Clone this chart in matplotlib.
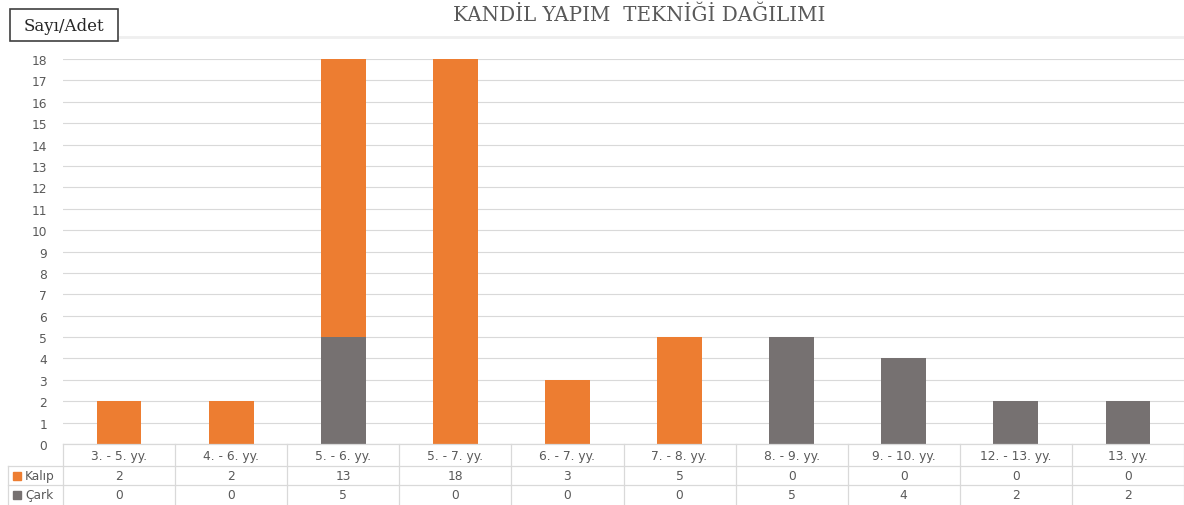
"""Kandil yapim teknigi dagilimi - stacked bar chart with Excel-style data table."""

import matplotlib

matplotlib.use("Agg")

import matplotlib.pyplot as plt
import numpy as np

W, H = 1184, 506

CATEGORIES = ["3. - 5. yy.", "4. - 6. yy.", "5. - 6. yy.", "5. - 7. yy.", "6. - 7. yy.",
              "7. - 8. yy.", "8. - 9. yy.", "9. - 10. yy.", "12. - 13. yy.", "13. yy."]
KALIP = [2, 2, 13, 18, 3, 5, 0, 0, 0, 0]
CARK = [0, 0, 5, 0, 0, 0, 5, 4, 2, 2]
SERIES = [("Kalıp", KALIP), ("Çark", CARK)]
Y_TICKS = list(range(0, 19))

ORANGE = "#ED7D31"
GRAY = "#767171"
GRID = "#D9D9D9"
TEXT = "#595959"
COLORS = {"Kalıp": ORANGE, "Çark": GRAY}

SANS = ["DejaVu Sans"]
SERIF = ["DejaVu Serif"]
FS = 8.8


def fx(px):
    return px / W


def fy(py):
    return 1 - py / H


fig = plt.figure(figsize=(W / 100, H / 100), dpi=100, facecolor="white")

# plot area
x0, x1 = 63, 1184
y_top, y_zero = 60, 445
ax = fig.add_axes([fx(x0), fy(y_zero), fx(x1 - x0), (y_zero - y_top) / H])
n = len(CATEGORIES)
x = np.arange(n)
bw = 0.4
ax.bar(x, CARK, bw, color=GRAY, zorder=3)
ax.bar(x, KALIP, bw, bottom=CARK, color=ORANGE, zorder=3)
ax.set_xlim(-0.5, n - 0.5)
ax.set_ylim(0, 18)
ax.set_yticks(Y_TICKS)
ax.set_yticklabels([str(t) for t in Y_TICKS], fontsize=FS, color=TEXT, family=SANS)
ax.tick_params(axis="y", length=0, pad=11.5)
ax.set_xticks([])
ax.grid(axis="y", color=GRID, linewidth=0.8, zorder=0)
for s in ax.spines.values():
    s.set_visible(False)

# data table below plot area
row_h = [22, 19, 20]
edges = [y_zero]
for h in row_h:
    edges.append(edges[-1] + h)
tab = fig.add_axes([0, 0, 1, 1], facecolor="none")
tab.set_xlim(0, W)
tab.set_ylim(H, 0)
tab.axis("off")

cw = (x1 - x0) / n
lc = GRID
lw = 0.9
tab.plot([x0, x1], [edges[0], edges[0]], color=lc, lw=lw)
for e in edges[1:3]:
    tab.plot([8, x1], [e, e], color=lc, lw=lw)
tab.plot([8, 8], [edges[1], H], color=lc, lw=lw)
for i in range(n + 1):
    xv = x0 + i * cw
    tab.plot([xv, xv], [edges[0], H], color=lc, lw=lw)

for i, cat in enumerate(CATEGORIES):
    cx = x0 + (i + 0.5) * cw
    tab.text(cx, (edges[0] + edges[1]) / 2 + 1, cat, ha="center", va="center",
             fontsize=FS, color=TEXT, family=SANS)
    for r, (name, vals) in enumerate(SERIES):
        tab.text(cx, (edges[r + 1] + edges[r + 2]) / 2, str(vals[i]), ha="center",
                 va="center", fontsize=FS, color=TEXT, family=SANS)

for r, (name, vals) in enumerate(SERIES):
    cy = (edges[r + 1] + edges[r + 2]) / 2
    tab.add_patch(plt.Rectangle((13, cy - 4), 8, 8, color=COLORS[name]))
    tab.text(25, cy, name, ha="left", va="center", fontsize=FS, color=TEXT,
             family=SANS)

# faint top border under the title
tab.plot([118, x1], [38, 38], color="#EFEFEF", lw=2)

# title and axis label box
tab.text(639, 15, "KANDİL YAPIM  TEKNİĞİ DAĞILIMI", ha="center", va="center",
         fontsize=14.3, color=TEXT, family=SERIF)
tab.add_patch(plt.Rectangle((10, 10), 108, 32, facecolor="white",
                            edgecolor="#404040", linewidth=1.2, zorder=4))
tab.text(64, 26, "Sayı/Adet", ha="center", va="center", fontsize=12,
         color="#262626", family=SERIF, zorder=5)

fig.savefig("out.png", dpi=100, facecolor="white")
